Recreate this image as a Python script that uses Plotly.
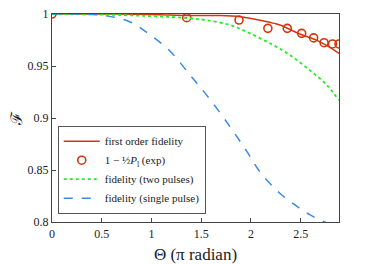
import plotly.graph_objects as go

# first order fidelity (solid red)
x_first = [0.0, 0.5, 1.0, 1.39, 1.69, 1.89, 2.09, 2.29, 2.49, 2.69, 2.885]
y_first = [1.0, 1.0, 0.9995, 0.9985, 0.9985, 0.9974, 0.9940, 0.9894, 0.9808, 0.9734, 0.9622]

# experiment 1 - 1/2 P_l (open circles)
x_exp = [0.0, 1.354, 1.88, 2.17, 2.365, 2.51, 2.63, 2.735, 2.82, 2.885]
y_exp = [1.0, 0.9965, 0.9942, 0.9862, 0.9862, 0.9814, 0.9770, 0.9724, 0.9712, 0.9712]

# fidelity (two pulses) (green dotted)
x_two = [0.0, 0.48, 0.985, 1.39, 1.54, 1.79, 1.99, 2.19, 2.39, 2.59, 2.76, 2.885]
y_two = [1.0, 0.9995, 0.998, 0.9959, 0.9942, 0.9894, 0.9814, 0.9718, 0.9606, 0.946, 0.932, 0.917]

# fidelity (single pulse) (blue dashed)
x_single = [0.0, 0.48, 0.78, 0.985, 1.19, 1.39, 1.555, 1.79, 1.96, 2.09, 2.29, 2.49, 2.59, 2.74, 2.885]
y_single = [1.0, 0.999, 0.9926, 0.980, 0.964, 0.941, 0.922, 0.8916, 0.8676, 0.8483, 0.8276, 0.8132, 0.807, 0.800, 0.795]

x_ticks = [0, 0.5, 1, 1.5, 2, 2.5]
x_tick_labels = ["0", "0.5", "1", "1.5", "2", "2.5"]
y_ticks = [0.8, 0.85, 0.9, 0.95, 1.0]
y_tick_labels = ["0.8", "0.85", "0.9", "0.95", "1"]

red = "#d2360f"
green = "#22ee22"
blue = "#3a8ae6"
font = "Times New Roman"

fig = go.Figure()
fig.add_trace(go.Scatter(x=x_first, y=y_first, mode="lines", name="first order fidelity",
                         line=dict(color=red, width=1.5, shape="spline")))
fig.add_trace(go.Scatter(x=x_exp, y=y_exp, mode="markers",
                         name="1 − ½<i>P</i><sub>l</sub> (exp)",
                         marker=dict(symbol="circle-open", size=8, color=red, line=dict(width=1.6))))
fig.add_trace(go.Scatter(x=x_two, y=y_two, mode="lines", name="fidelity (two pulses)",
                         line=dict(color=green, width=1.8, dash="dot", shape="spline")))
fig.add_trace(go.Scatter(x=x_single, y=y_single, mode="lines", name="fidelity (single pulse)",
                         line=dict(color=blue, width=1.5, dash="dash", shape="spline")))

fig.update_layout(
    width=358, height=256,
    margin=dict(l=44, r=27, t=6, b=42, autoexpand=False),
    paper_bgcolor="white", plot_bgcolor="white",
    font=dict(family=font, size=12, color="#222"),
    showlegend=True,
    legend=dict(x=0.02, y=0.04, xanchor="left", yanchor="bottom",
                bgcolor="white", bordercolor="#555", borderwidth=1,
                font=dict(family=font, size=11, color="#222"),
                itemwidth=36, tracegroupgap=0),
)
fig.update_xaxes(range=[0, 2.885], tickvals=x_ticks, ticktext=x_tick_labels, automargin=False,
                 showgrid=False, zeroline=False, showline=True, linecolor="#444", linewidth=1.2,
                 mirror=True, ticks="inside", ticklen=4, tickcolor="#444", ticklabeloverflow="allow",
                 tickfont=dict(family=font, size=12, color="#222"),
                 title=dict(text="Θ (π radian)", font=dict(family=font, size=17, color="#222"), standoff=12))
fig.update_yaxes(range=[0.8, 1.0], tickvals=y_ticks, ticktext=y_tick_labels, automargin=False,
                 showgrid=False, zeroline=False, showline=True, linecolor="#444", linewidth=1.2,
                 mirror=True, ticks="inside", ticklen=4, tickcolor="#444", ticklabeloverflow="allow",
                 tickfont=dict(family=font, size=12, color="#222"),
                 title=dict(text="ℱ", font=dict(family=font, size=16, color="#222"), standoff=6))

fig.write_html("out.html")
